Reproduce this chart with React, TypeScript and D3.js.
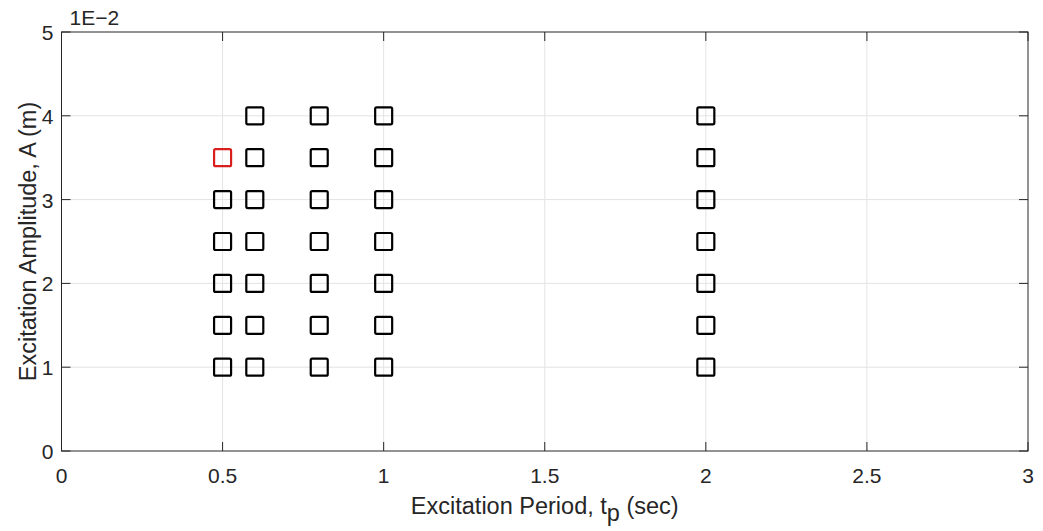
import { useEffect, useRef } from "react";
import * as d3 from "d3";

// data points: excitation period (s) vs amplitude (x1E-2 m)
const periods = [0.5, 0.6, 0.8, 1.0, 2.0];
const amps05 = [1, 1.5, 2, 2.5, 3];
const ampsFull = [1, 1.5, 2, 2.5, 3, 3.5, 4];
const redPoints = [{ tp: 0.5, a: 3.5 }];
const xTicks = [0, 0.5, 1, 1.5, 2, 2.5, 3];
const yTicks = [0, 1, 2, 3, 4, 5];

const W = 1043;
const H = 531;
const margin = { top: 32, right: 15, bottom: 80, left: 61.5 };
const FONT = "'Liberation Sans', Arial, Helvetica, sans-serif";
const TICK_FS = 21;
const LABEL_FS = 23.5;

const App = () => {
  const svgRef = useRef<SVGSVGElement | null>(null);

  useEffect(() => {
    const svg = d3.select(svgRef.current);
    svg.selectAll("*").remove();

    const x = d3.scaleLinear().domain([0, 3]).range([margin.left, W - margin.right]);
    const y = d3.scaleLinear().domain([0, 5]).range([H - margin.bottom, margin.top]);

    // grid
    const grid = svg.append("g");
    grid.selectAll("line.gx")
      .data(xTicks.slice(1, -1))
      .enter()
      .append("line")
      .attr("x1", (d) => x(d))
      .attr("x2", (d) => x(d))
      .attr("y1", y(0))
      .attr("y2", y(5))
      .attr("stroke", "#e3e3e3")
      .attr("stroke-width", 1);
    grid.selectAll("line.gy")
      .data(yTicks.slice(1, -1))
      .enter()
      .append("line")
      .attr("x1", x(0))
      .attr("x2", x(3))
      .attr("y1", (d) => y(d))
      .attr("y2", (d) => y(d))
      .attr("stroke", "#e3e3e3")
      .attr("stroke-width", 1);

    // box
    svg.append("rect")
      .attr("x", x(0))
      .attr("y", y(5))
      .attr("width", x(3) - x(0))
      .attr("height", y(0) - y(5))
      .attr("fill", "none")
      .attr("stroke", "#262626")
      .attr("stroke-width", 1);

    // inner ticks
    const tlen = 9;
    const ticks = svg.append("g").attr("stroke", "#262626");
    xTicks.forEach((t) => {
      ticks.append("line").attr("x1", x(t)).attr("x2", x(t)).attr("y1", y(0)).attr("y2", y(0) - tlen);
      ticks.append("line").attr("x1", x(t)).attr("x2", x(t)).attr("y1", y(5)).attr("y2", y(5) + tlen);
    });
    yTicks.forEach((t) => {
      ticks.append("line").attr("x1", x(0)).attr("x2", x(0) + tlen).attr("y1", y(t)).attr("y2", y(t));
      ticks.append("line").attr("x1", x(3)).attr("x2", x(3) - tlen).attr("y1", y(t)).attr("y2", y(t));
    });

    // tick labels
    svg.append("g")
      .selectAll("text")
      .data(xTicks)
      .enter()
      .append("text")
      .attr("x", (d) => x(d))
      .attr("y", y(0) + 31.5)
      .attr("text-anchor", "middle")
      .attr("font-family", FONT)
      .attr("font-size", TICK_FS)
      .attr("fill", "#262626")
      .text((d) => String(d));
    svg.append("g")
      .selectAll("text")
      .data(yTicks)
      .enter()
      .append("text")
      .attr("x", x(0) - 8)
      .attr("y", (d) => y(d) + 8)
      .attr("text-anchor", "end")
      .attr("font-family", FONT)
      .attr("font-size", TICK_FS)
      .attr("fill", "#262626")
      .text((d) => String(d));

    // exponent label
    svg.append("text")
      .attr("x", x(0) + 8)
      .attr("y", y(5) - 7)
      .attr("font-family", FONT)
      .attr("font-size", TICK_FS)
      .attr("fill", "#262626")
      .text("1E\u22122");

    // axis labels
    const xl = svg.append("text")
      .attr("x", x(1.5))
      .attr("y", 514)
      .attr("text-anchor", "middle")
      .attr("font-family", FONT)
      .attr("font-size", LABEL_FS)
      .attr("fill", "#262626");
    xl.append("tspan").text("Excitation Period, t");
    xl.append("tspan").attr("dy", 7).text("p");
    xl.append("tspan").attr("dy", -7).text(" (sec)");

    svg.append("text")
      .attr("transform", `translate(36,${(y(0) + y(5)) / 2}) rotate(-90)`)
      .attr("text-anchor", "middle")
      .attr("font-family", FONT)
      .attr("font-size", LABEL_FS)
      .attr("fill", "#262626")
      .text("Excitation Amplitude, A (m)");

    // markers
    const pts: { tp: number; a: number }[] = [];
    periods.forEach((p) => {
      const list = p === 0.5 ? amps05 : ampsFull;
      list.forEach((a) => pts.push({ tp: p, a }));
    });
    const s = 17;
    svg.append("g")
      .selectAll("rect")
      .data(pts)
      .enter()
      .append("rect")
      .attr("x", (d) => x(d.tp) - s / 2)
      .attr("y", (d) => y(d.a) - s / 2)
      .attr("width", s)
      .attr("height", s)
      .attr("rx", 1.5)
      .attr("fill", "none")
      .attr("stroke", "#000")
      .attr("stroke-width", 2.2);
    svg.append("g")
      .selectAll("rect")
      .data(redPoints)
      .enter()
      .append("rect")
      .attr("x", (d) => x(d.tp) - s / 2)
      .attr("y", (d) => y(d.a) - s / 2)
      .attr("width", s)
      .attr("height", s)
      .attr("rx", 1.5)
      .attr("fill", "none")
      .attr("stroke", "#d91e1e")
      .attr("stroke-width", 2.2);
  }, []);

  return (
    <div style={{ position: "absolute", left: 0, top: 0, background: "#fff" }}>
      <svg ref={svgRef} width={W} height={H}></svg>
    </div>
  );
};

export default App;
